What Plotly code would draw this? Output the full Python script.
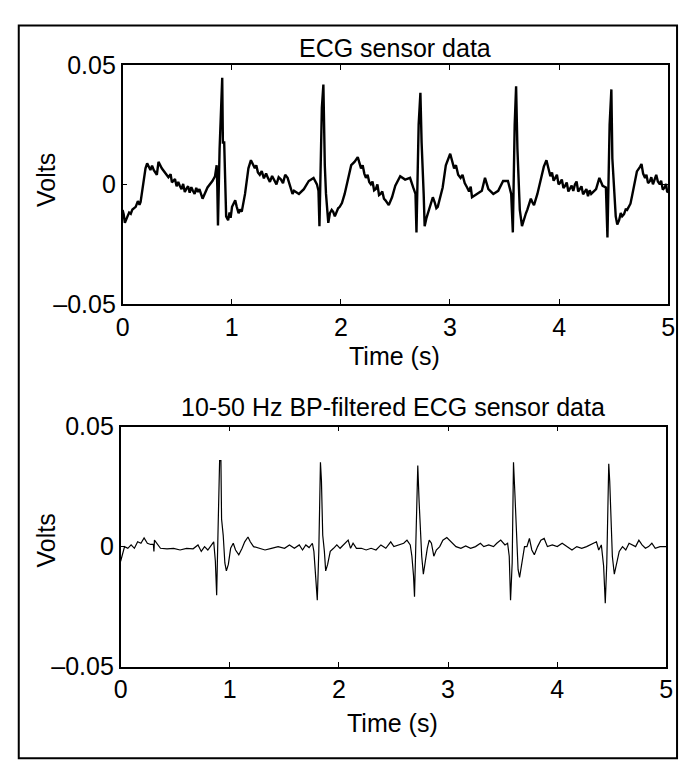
import plotly.graph_objects as go

# ---------------- data ----------------
# raw ECG: main read points
raw_t = [0.000, 0.021, 0.045, 0.075, 0.120, 0.165, 0.195, 0.210, 0.240, 0.285, 0.314, 0.329, 0.359, 0.404,
         0.464, 0.524, 0.583, 0.644, 0.704, 0.733, 0.778, 0.823, 0.847, 0.862, 0.868, 0.874, 0.889, 0.907,
         0.913, 0.919, 0.931, 0.949, 0.967, 1.003, 1.032, 1.063, 1.092, 1.122, 1.153, 1.176, 1.212, 1.257,
         1.332, 1.391, 1.452, 1.512, 1.557, 1.571, 1.616, 1.661, 1.706, 1.750, 1.781, 1.795, 1.804, 1.826,
         1.835, 1.840, 1.853, 1.864, 1.885, 1.916, 1.945, 1.990, 2.035, 2.065, 2.095, 2.125, 2.155, 2.185,
         2.230, 2.275, 2.320, 2.364, 2.409, 2.439, 2.469, 2.499, 2.544, 2.589, 2.634, 2.663, 2.684, 2.693,
         2.713, 2.729, 2.740, 2.759, 2.768, 2.798, 2.843, 2.888, 2.933, 2.962, 3.002, 3.038, 3.097, 3.157,
         3.202, 3.247, 3.292, 3.321, 3.352, 3.397, 3.442, 3.487, 3.531, 3.561, 3.576, 3.593, 3.606, 3.618,
         3.630, 3.640, 3.660, 3.696, 3.741, 3.770, 3.801, 3.830, 3.860, 3.884, 3.920, 3.965, 4.010, 4.055,
         4.100, 4.145, 4.190, 4.234, 4.294, 4.339, 4.369, 4.399, 4.429, 4.443, 4.463, 4.479, 4.488, 4.519,
         4.533, 4.578, 4.623, 4.654, 4.683, 4.713, 4.743, 4.788, 4.833, 4.878, 4.923, 4.968, 5.000]
raw_v = [-0.0107, -0.0161, -0.0134, -0.0123, -0.0094, -0.0074, 0.0027, 0.0067, 0.0074, 0.0060, 0.0040, 0.0094,
         0.0067, 0.0040, 0.0014, -0.0006, -0.0020, -0.0027, -0.0020, -0.0060, -0.0013, 0.0014, 0.0034, 0.0080,
         -0.0010, -0.0172, 0.0148, 0.0446, 0.0446, 0.0175, 0.0175, -0.0134, -0.0150, -0.0094, -0.0067, -0.0121,
         -0.0114, -0.0040, 0.0067, 0.0101, 0.0067, 0.0040, 0.0027, 0.0014, 0.0020, 0.0027, -0.0040, -0.0027,
         -0.0040, -0.0020, 0.0014, 0.0027, 0.0000, -0.0027, -0.0175, 0.0320, 0.0417, 0.0417, 0.0080, -0.0040,
         -0.0161, -0.0107, -0.0134, -0.0094, -0.0040, 0.0027, 0.0080, 0.0094, 0.0114, 0.0067, 0.0027, 0.0000,
         -0.0020, -0.0040, -0.0067, -0.0087, -0.0054, -0.0006, 0.0034, 0.0020, 0.0027, -0.0013, -0.0040, -0.0201,
         0.0250, 0.0383, 0.0175, -0.0040, -0.0175, -0.0121, -0.0054, -0.0094, -0.0013, 0.0080, 0.0128, 0.0067,
         0.0027, -0.0013, -0.0054, -0.0040, -0.0027, 0.0027, -0.0020, -0.0040, -0.0027, 0.0014, 0.0014, -0.0040,
         -0.0201, 0.0250, 0.0410, 0.0150, 0.0027, -0.0107, -0.0175, -0.0121, -0.0060, -0.0087, -0.0040, 0.0014,
         0.0074, 0.0101, 0.0034, 0.0027, 0.0007, -0.0006, -0.0020, 0.0000, -0.0020, -0.0033, -0.0040, -0.0020,
         0.0027, -0.0006, -0.0013, -0.0222, 0.0250, 0.0397, 0.0108, -0.0134, -0.0168, -0.0134, -0.0107, -0.0081,
         -0.0013, 0.0054, 0.0074, 0.0027, 0.0014, 0.0027, 0.0000, -0.0013, -0.0033]

# raw ECG: extra read points in the noisy (thick) stretches
raw_t_detail = [0.010, 0.032, 0.060, 0.090, 0.105, 0.140, 0.155, 0.225, 0.255, 0.270, 0.420, 0.440, 0.452,
                0.480, 0.495, 0.510, 0.540, 0.555, 0.570, 0.600, 0.615, 0.630, 0.660, 0.675, 0.690,
                0.980, 0.990, 1.015, 1.045, 1.075, 1.225, 1.240, 1.275, 1.295, 1.315, 1.350, 1.370,
                1.410, 1.430, 1.470, 1.490, 1.900, 1.930, 1.960, 1.975, 2.010, 2.200, 2.215, 2.245,
                2.260, 2.290, 2.305, 2.335, 2.350, 2.380, 2.395, 2.785, 2.815, 2.830, 2.860, 2.875,
                2.905, 2.920, 3.055, 3.075, 3.115, 3.135, 3.175, 3.190, 3.675, 3.710, 3.725, 3.755,
                3.935, 3.950, 3.980, 3.995, 4.025, 4.040, 4.070, 4.085, 4.115, 4.130, 4.160, 4.175,
                4.205, 4.220, 4.250, 4.265, 4.280, 4.550, 4.565, 4.595, 4.610, 4.640, 4.668, 4.755,
                4.770, 4.800, 4.815, 4.845, 4.860, 4.890, 4.905, 4.935, 4.950, 4.980, 4.990]
raw_v_detail = [-0.0125, -0.0145, -0.0118, -0.0105, -0.0098, -0.0070, -0.0085, 0.0088, 0.0060, 0.0078, 0.0030,
                0.0042, 0.0008, 0.0022, -0.0008, 0.0010, -0.0020, 0.0002, -0.0032, -0.0008, -0.0035, -0.0012,
                -0.0040, -0.0015, -0.0032, -0.0118, -0.0140, -0.0080, -0.0092, -0.0105, 0.0080, 0.0050,
                0.0055, 0.0025, 0.0045, 0.0010, 0.0035, 0.0000, 0.0030, 0.0005, 0.0040, -0.0120, -0.0115,
                -0.0120, -0.0100, -0.0078, 0.0080, 0.0045, 0.0040, 0.0010, 0.0012, -0.0025, 0.0000, -0.0045,
                -0.0030, -0.0060, -0.0140, -0.0100, -0.0070, -0.0075, -0.0100, -0.0060, -0.0040, 0.0080,
                0.0040, 0.0040, 0.0005, -0.0030, -0.0010, -0.0150, -0.0105, -0.0080, -0.0075, 0.0050,
                0.0015, 0.0040, 0.0000, 0.0020, -0.0015, 0.0008, -0.0030, -0.0005, -0.0028, 0.0012,
                -0.0030, -0.0008, -0.0042, -0.0020, -0.0050, -0.0025, -0.0150, -0.0120, -0.0125, -0.0105,
                -0.0095, -0.0050, 0.0085, 0.0045, 0.0040, 0.0005, 0.0030, 0.0000, 0.0040, 0.0012, 0.0015,
                -0.0022, 0.0002, -0.0030]

filt_t = [0.000, 0.021, 0.036, 0.066, 0.096, 0.126, 0.156, 0.186, 0.215, 0.245, 0.275, 0.300, 0.305, 0.310,
          0.365, 0.425, 0.485, 0.545, 0.604, 0.664, 0.709, 0.739, 0.769, 0.799, 0.829, 0.853, 0.868, 0.880,
          0.892, 0.907, 0.919, 0.925, 0.940, 0.955, 0.969, 0.987, 1.008, 1.032, 1.053, 1.083, 1.113, 1.137,
          1.167, 1.188, 1.218, 1.263, 1.323, 1.382, 1.443, 1.502, 1.547, 1.592, 1.637, 1.667, 1.697, 1.727,
          1.757, 1.771, 1.786, 1.802, 1.816, 1.831, 1.840, 1.852, 1.867, 1.879, 1.897, 1.921, 1.951, 1.981,
          2.011, 2.056, 2.085, 2.107, 2.130, 2.161, 2.206, 2.250, 2.295, 2.340, 2.385, 2.430, 2.475, 2.504,
          2.549, 2.594, 2.624, 2.654, 2.669, 2.684, 2.693, 2.708, 2.723, 2.735, 2.747, 2.759, 2.774, 2.789,
          2.810, 2.828, 2.848, 2.870, 2.893, 2.924, 2.953, 2.989, 3.028, 3.073, 3.118, 3.162, 3.207, 3.252,
          3.297, 3.328, 3.373, 3.417, 3.447, 3.483, 3.522, 3.546, 3.561, 3.573, 3.588, 3.600, 3.612, 3.627,
          3.642, 3.656, 3.678, 3.701, 3.723, 3.746, 3.768, 3.791, 3.821, 3.851, 3.881, 3.911, 3.956, 4.001,
          4.046, 4.091, 4.136, 4.180, 4.225, 4.270, 4.330, 4.360, 4.381, 4.405, 4.426, 4.441, 4.455, 4.473,
          4.482, 4.494, 4.506, 4.524, 4.545, 4.569, 4.599, 4.629, 4.659, 4.689, 4.719, 4.749, 4.778, 4.809,
          4.838, 4.868, 4.899, 4.943, 5.000]
filt_v = [-0.0061, -0.0020, 0.0000, -0.0007, 0.0007, -0.0007, 0.0020, 0.0014, 0.0036, 0.0014, 0.0009, 0.0009,
          -0.0020, 0.0027, -0.0007, -0.0009, -0.0007, -0.0014, -0.0007, -0.0009, 0.0007, -0.0020, 0.0000, -0.0014,
          0.0007, 0.0020, -0.0061, -0.0203, 0.0054, 0.0358, 0.0358, 0.0115, 0.0047, -0.0068, -0.0101, -0.0074,
          -0.0007, 0.0014, -0.0014, -0.0034, -0.0007, 0.0020, 0.0040, 0.0020, 0.0000, -0.0007, -0.0014, -0.0007,
          0.0000, -0.0007, 0.0007, -0.0007, 0.0007, -0.0014, 0.0007, -0.0004, 0.0014, -0.0020, -0.0101, -0.0223,
          -0.0020, 0.0351, 0.0277, 0.0047, -0.0020, -0.0101, -0.0074, -0.0020, -0.0007, 0.0007, -0.0007, 0.0014,
          0.0027, -0.0007, 0.0014, -0.0007, -0.0007, -0.0014, -0.0007, -0.0014, 0.0007, -0.0007, 0.0020, 0.0000,
          0.0007, 0.0014, 0.0027, 0.0007, -0.0040, -0.0122, -0.0209, 0.0014, 0.0338, 0.0189, 0.0040, -0.0040,
          -0.0115, -0.0068, -0.0007, 0.0027, 0.0014, -0.0040, -0.0014, 0.0000, 0.0027, 0.0038, 0.0020, 0.0000,
          -0.0007, 0.0003, -0.0007, 0.0000, 0.0014, 0.0000, 0.0007, 0.0000, 0.0014, 0.0027, 0.0007, 0.0014,
          -0.0040, -0.0223, -0.0068, 0.0351, 0.0230, 0.0027, -0.0095, -0.0128, -0.0068, 0.0000, 0.0000, 0.0034,
          -0.0014, -0.0034, 0.0000, 0.0027, 0.0034, 0.0000, 0.0007, 0.0000, 0.0014, 0.0000, -0.0014, 0.0000,
          -0.0007, 0.0000, 0.0014, 0.0020, -0.0014, 0.0007, -0.0081, -0.0236, -0.0068, 0.0345, 0.0270, 0.0081,
          -0.0040, -0.0115, -0.0068, -0.0020, 0.0000, -0.0014, 0.0014, 0.0007, 0.0000, 0.0027, 0.0007, -0.0007,
          0.0000, 0.0014, -0.0007, 0.0000, 0.0000]

x_ticks = [0, 1, 2, 3, 4, 5]
y_ticks = [-0.05, 0, 0.05]
y_ticktext = ["\u20130.05", "0", "0.05"]
titles = ["ECG sensor data", "10-50 Hz BP-filtered ECG sensor data"]
x_label = "Time (s)"
y_label = "Volts"

# merge the two sets of read points of the raw trace in time order
raw_pts = sorted(zip(raw_t + raw_t_detail, raw_v + raw_v_detail))
raw_all_t = [p[0] for p in raw_pts]
raw_all_v = [p[1] for p in raw_pts]

# ---------------- layout helpers (pixel -> paper) ----------------
W, H = 686, 778
def px(x):
    return x / W
def py(y):
    return 1 - y / H

FONT = "Liberation Sans, Arial, Helvetica, sans-serif"
FS = 25

fig = go.Figure()
fig.add_trace(go.Scatter(x=raw_all_t, y=raw_all_v, mode="lines", line=dict(color="black", width=2.4),
                         xaxis="x", yaxis="y", showlegend=False))
fig.add_trace(go.Scatter(x=filt_t, y=filt_v, mode="lines", line=dict(color="black", width=1.2),
                         xaxis="x2", yaxis="y2", showlegend=False))

axis_common = dict(showline=True, mirror="ticks", linecolor="black", linewidth=1.5,
                   ticks="inside", ticklen=5, tickwidth=1, tickcolor="black",
                   showgrid=False, zeroline=False,
                   tickfont=dict(family=FONT, size=FS, color="black"))

fig.update_layout(
    width=W, height=H,
    margin=dict(l=0, r=0, t=0, b=0),
    paper_bgcolor="white", plot_bgcolor="white",
    xaxis=dict(domain=[px(118), px(675)], range=[0, 5], tickvals=x_ticks, anchor="y", **axis_common),
    yaxis=dict(domain=[py(300.7), py(52.7)], range=[-0.05, 0.05], tickvals=y_ticks,
               ticktext=y_ticktext, anchor="x", **axis_common),
    xaxis2=dict(domain=[px(116), px(673)], range=[0, 5], tickvals=x_ticks, anchor="y2", **axis_common),
    yaxis2=dict(domain=[py(677), py(428)], range=[-0.05, 0.05], tickvals=y_ticks,
                ticktext=y_ticktext, anchor="x2", **axis_common),
)

def label(text, x, y, angle=0):
    fig.add_annotation(text=text, x=px(x), y=py(y), xref="paper", yref="paper",
                       showarrow=False, textangle=angle, xanchor="center", yanchor="middle",
                       font=dict(family=FONT, size=FS, color="black"))

label(titles[0], 396, 35)
label(titles[1], 394, 408)
label(x_label, 396, 355)
label(x_label, 394, 735)
label(y_label, 40, 172, -90)
label(y_label, 40, 546, -90)

# outer frame
fig.add_shape(type="rect", xref="paper", yref="paper",
              x0=px(12), x1=px(684), y0=py(772), y1=py(12),
              line=dict(color="black", width=2))

fig.write_html("out.html")
